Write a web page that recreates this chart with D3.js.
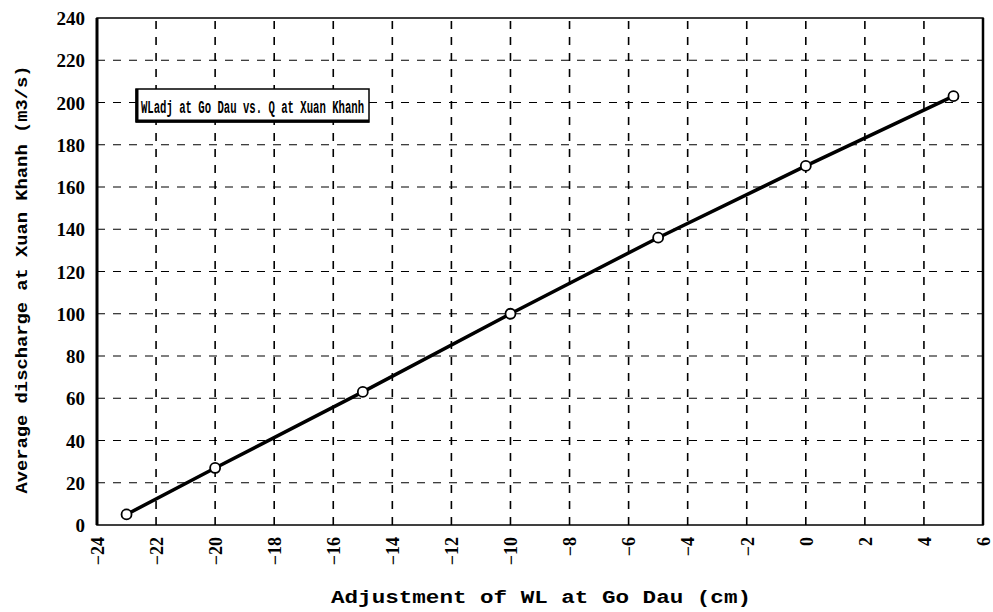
<!DOCTYPE html>
<html><head><meta charset="utf-8">
<script src="https://cdn.jsdelivr.net/npm/d3@7"></script>
<style>body{margin:0;background:#fff;}svg{display:block;}</style>
</head><body>
<script>
const xValues = [-23, -20, -15, -10, -5, 0, 5];
const yValues = [5, 27, 63, 100, 136, 170, 203];
const xTicks = [-24, -22, -20, -18, -16, -14, -12, -10, -8, -6, -4, -2, 0, 2, 4, 6];
const yTicks = [0, 20, 40, 60, 80, 100, 120, 140, 160, 180, 200, 220, 240];
const legendText = "WLadj at Go Dau vs. Q at Xuan Khanh";
const xTitle = "Adjustment of WL at Go Dau (cm)";
const yTitle = "Average discharge at Xuan Khanh (m3/s)";

const W = 993, H = 612;
const m = {left: 97, right: 10, top: 18, bottom: 87};
const svg = d3.select("body").append("svg").attr("width", W).attr("height", H);
const x = d3.scaleLinear().domain([-24, 6]).range([m.left, W - m.right]);
const y = d3.scaleLinear().domain([0, 240]).range([H - m.bottom, m.top]);
const font = "'Liberation Mono', 'DejaVu Sans Mono', monospace";
const serif = "'Liberation Serif', 'DejaVu Serif', serif";

// grid
const g = svg.append("g");
g.selectAll(".vg").data(xTicks.slice(1, -1)).join("line")
  .attr("x1", d => x(d)).attr("x2", d => x(d)).attr("y1", y(0)).attr("y2", y(240))
  .attr("stroke", "#000").attr("stroke-width", 1.6).attr("stroke-dasharray", "8,8");
g.selectAll(".hg").data(yTicks.slice(1, -1)).join("line")
  .attr("x1", x(-24)).attr("x2", x(6)).attr("y1", d => y(d)).attr("y2", d => y(d))
  .attr("stroke", "#000").attr("stroke-width", 1.2).attr("stroke-dasharray", "8,8");

// frame
svg.append("rect").attr("x", x(-24)).attr("y", y(240)).attr("width", x(6) - x(-24)).attr("height", y(0) - y(240))
  .attr("fill", "none").attr("stroke", "#000").attr("stroke-width", 1.5);
svg.append("line").attr("x1", x(-24)).attr("x2", x(-24)).attr("y1", y(0)).attr("y2", y(240)).attr("stroke", "#000").attr("stroke-width", 3);
svg.append("line").attr("x1", x(6)).attr("x2", x(6)).attr("y1", y(0)).attr("y2", y(240)).attr("stroke", "#000").attr("stroke-width", 2.5);

// axes
const yAxis = svg.append("g").attr("transform", `translate(${x(-24)},0)`)
  .call(d3.axisLeft(y).tickValues(yTicks).tickSize(0).tickPadding(12));
yAxis.select(".domain").remove();
yAxis.selectAll("text").attr("font-family", serif).attr("font-size", 19).attr("font-weight", "bold").attr("fill", "#000").attr("dy", "0.35em");

const xAxis = svg.append("g").attr("transform", `translate(0,${y(0)})`)
  .call(d3.axisBottom(x).tickValues(xTicks).tickSize(0));
xAxis.select(".domain").remove();
xAxis.selectAll("text")
  .attr("font-family", serif).attr("font-size", 18).attr("font-weight", "bold").attr("fill", "#000")
  .attr("transform", "rotate(-90)").attr("text-anchor", "end").attr("x", -12).attr("y", 0).attr("dy", "0.35em");

// line & points
const line = d3.line().x((d, i) => x(xValues[i])).y(d => y(d));
svg.append("path").datum(yValues).attr("d", line).attr("fill", "none").attr("stroke", "#000").attr("stroke-width", 3.5);
svg.selectAll(".pt").data(yValues).join("circle")
  .attr("cx", (d, i) => x(xValues[i])).attr("cy", d => y(d)).attr("r", 5)
  .attr("fill", "#fff").attr("stroke", "#000").attr("stroke-width", 1.8);

// legend
const lx = 136, ly = 89, lw = 233, lh = 33;
svg.append("rect").attr("x", lx).attr("y", ly).attr("width", lw).attr("height", lh).attr("fill", "#fff").attr("stroke", "#000").attr("stroke-width", 1.5);
svg.append("line").attr("x1", lx + 1).attr("x2", lx + 1).attr("y1", ly).attr("y2", ly + lh).attr("stroke", "#000").attr("stroke-width", 3);
svg.append("line").attr("x1", lx).attr("x2", lx + lw).attr("y1", ly + lh - 1).attr("y2", ly + lh - 1).attr("stroke", "#000").attr("stroke-width", 3);
svg.append("text").attr("x", lx + lw / 2).attr("y", ly + lh / 2 + 1).attr("dy", "0.35em").attr("text-anchor", "middle")
  .attr("font-family", font).attr("font-size", 18).attr("font-weight", "bold").attr("textLength", lw - 10).attr("lengthAdjust", "spacingAndGlyphs")
  .text(legendText);

// titles
svg.append("text").attr("x", 541).attr("y", 603).attr("text-anchor", "middle")
  .attr("font-family", font).attr("font-size", 18).attr("font-weight", "bold")
  .attr("textLength", 420).attr("lengthAdjust", "spacingAndGlyphs").text(xTitle);
svg.append("text").attr("transform", `translate(27,${(y(0) + y(240)) / 2 + 8}) rotate(-90)`).attr("text-anchor", "middle")
  .attr("font-family", font).attr("font-size", 17).attr("font-weight", "bold")
  .attr("textLength", 428).attr("lengthAdjust", "spacingAndGlyphs").text(yTitle);
</script>
</body></html>
